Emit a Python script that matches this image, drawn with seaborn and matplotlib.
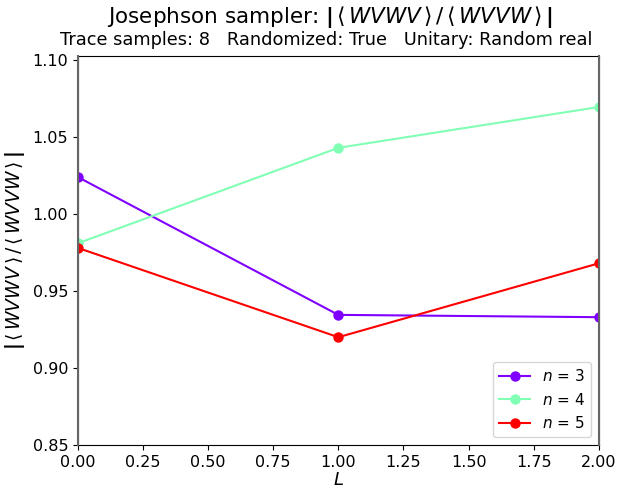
import matplotlib
matplotlib.use("Agg")
import matplotlib.pyplot as plt
import seaborn as sns
import numpy as np

L_vals = [0, 1, 2]
n_labels = [3, 4, 5]
ratio_n3 = [1.024, 0.9345, 0.933]
ratio_n4 = [0.981, 1.043, 1.0695]
ratio_n5 = [0.978, 0.920, 0.968]
series = [ratio_n3, ratio_n4, ratio_n5]

cmap = plt.get_cmap("rainbow")
colors = [cmap(v) for v in np.linspace(0, 1, len(series))]

fig = plt.figure(figsize=(6.18, 4.93), dpi=100)
ax = fig.add_axes([0.126, 0.0974, 0.843, 0.7886])

for n, vals, c in zip(n_labels, series, colors):
    sns.lineplot(x=L_vals, y=vals, color=c, marker="o", markersize=7.5,
                 markeredgewidth=0, linewidth=1.5, label=f"$n$ = {n}", ax=ax)

ax.axvline(0, color="0.4", lw=1.5, zorder=4, clip_on=False)
ax.axvline(2, color="0.4", lw=1.5, zorder=4, clip_on=False)

ax.set_xlim(0, 2)
ax.set_ylim(0.85, 1.1025)
ax.set_xticks([0, 0.25, 0.5, 0.75, 1.0, 1.25, 1.5, 1.75, 2.0])
ax.set_xticklabels([f"{t:.2f}" for t in ax.get_xticks()])
ax.set_yticks([0.85, 0.90, 0.95, 1.00, 1.05, 1.10])
ax.set_yticklabels([f"{t:.2f}" for t in ax.get_yticks()])
ax.tick_params(labelsize=11.5)

expr = r"\mathbf{|}\,\langle\, WVWV\,\rangle\,/\,\langle\, WVVW\,\rangle\,\mathbf{|}"
ax.set_xlabel("$L$", fontsize=13, labelpad=1)
ax.set_ylabel("$" + expr + "$", fontsize=13.5, labelpad=4)
fig.text(0.534, 0.965, "Josephson sampler: $" + expr + "$", fontsize=15.5,
         ha="center", va="center")
fig.text(0.528, 0.918, "Trace samples: 8   Randomized: True   Unitary: Random real",
         fontsize=12.8, ha="center", va="center")

ax.legend(loc="lower right", fontsize=11)

fig.savefig("out.png", dpi=100)
